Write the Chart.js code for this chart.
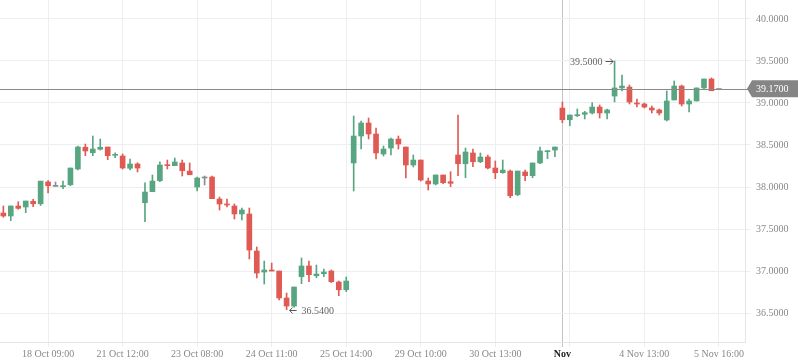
<!DOCTYPE html>
<html>
<head>
<meta charset="utf-8">
<script src="https://cdn.jsdelivr.net/npm/chart.js@4.4.1/dist/chart.umd.min.js"></script>
<style>
  html, body { margin: 0; padding: 0; background: #fff; }
  #wrap { width: 798px; height: 363px; }
</style>
</head>
<body>
<div id="wrap"><canvas id="priceChart"></canvas></div>
<script>
// Candle data (hourly-ish bars)
const opens = [
  37.69, 37.655, 37.774, 37.762, 37.83, 37.80, 38.06, 38.008, 38.004, 38.027,
  38.214, 38.473, 38.408, 38.449, 38.476, 38.377, 38.369, 38.223, 38.274, 37.813,
  37.944, 38.075, 38.262, 38.254, 38.286, 38.19, 38.0, 38.107, 38.119, 37.857,
  37.798, 37.774, 37.679, 37.679, 37.238, 36.988, 37.012, 37.0, 36.679, 36.583,
  36.932, 37.06, 36.944, 36.968, 37.0, 36.869, 36.777, 38.286, 38.607, 38.762,
  38.631, 38.393, 38.464, 38.571, 38.476, 38.262, 38.321, 38.071, 38.036, 38.143,
  38.063, 38.381, 38.277, 38.405, 38.301, 38.357, 38.226, 38.17, 38.19, 37.908,
  38.179, 38.135, 38.286, 38.42, 38.44, 38.94, 38.801, 38.849, 38.865, 38.881,
  38.952, 38.881, 39.083, 39.179, 39.19, 39.0, 38.988, 38.94, 38.917, 38.798,
  39.036, 39.202, 38.988, 39.024, 39.179, 39.286, 39.16
];
const highs = [
  37.774, 37.774, 37.825, 37.833, 37.854, 38.07, 38.075, 38.06, 38.071, 38.226,
  38.488, 38.512, 38.607, 38.571, 38.476, 38.408, 38.393, 38.333, 38.289, 38.051,
  38.143, 38.301, 38.321, 38.345, 38.321, 38.286, 38.119, 38.131, 38.131, 37.881,
  37.857, 37.798, 37.75, 37.75, 37.286, 37.119, 37.095, 37.0, 36.738, 36.81,
  37.155, 37.119, 37.071, 37.024, 37.012, 36.881, 36.929, 38.845, 38.786, 38.821,
  38.702, 38.488, 38.583, 38.607, 38.476, 38.381, 38.321, 38.107, 38.143, 38.143,
  38.182, 38.857, 38.464, 38.452, 38.405, 38.381, 38.31, 38.321, 38.202, 38.19,
  38.202, 38.286, 38.476, 38.432, 38.476, 39.012, 38.857, 38.929, 38.901, 39.004,
  38.976, 38.929, 39.5, 39.333, 39.214, 39.048, 39.0, 38.964, 38.929, 39.143,
  39.262, 39.214, 39.048, 39.179, 39.286, 39.298, 39.16
];
const lows = [
  37.64, 37.60, 37.735, 37.694, 37.765, 37.78, 37.93, 38.008, 37.98, 38.015,
  38.202, 38.373, 38.373, 38.44, 38.325, 38.349, 38.214, 38.202, 38.179, 37.587,
  37.944, 38.063, 38.214, 38.254, 38.131, 38.146, 37.952, 38.024, 37.861, 37.726,
  37.762, 37.619, 37.607, 37.143, 36.917, 36.845, 37.0, 36.655, 36.54, 36.571,
  36.849, 36.873, 36.92, 36.932, 36.861, 36.706, 36.754, 37.952, 38.452, 38.571,
  38.333, 38.369, 38.381, 38.452, 38.107, 38.238, 38.071, 37.964, 38.024, 38.039,
  38.004, 38.135, 38.111, 38.242, 38.289, 38.214, 38.099, 38.163, 37.873, 37.896,
  38.075, 38.111, 38.277, 38.337, 38.361, 38.765, 38.73, 38.837, 38.81, 38.869,
  38.821, 38.81, 39.012, 39.143, 38.988, 38.952, 38.94, 38.881, 38.857, 38.786,
  39.036, 38.964, 38.893, 39.024, 39.167, 39.146, 39.16
];
const closes = [
  37.655, 37.774, 37.746, 37.833, 37.80, 38.07, 38.015, 38.008, 38.015, 38.226,
  38.476, 38.429, 38.452, 38.473, 38.373, 38.389, 38.226, 38.274, 38.226, 37.94,
  38.071, 38.262, 38.254, 38.298, 38.194, 38.146, 38.107, 38.107, 37.861, 37.798,
  37.786, 37.679, 37.726, 37.25, 36.976, 37.012, 37.0, 36.679, 36.583, 36.81,
  37.06, 36.956, 36.964, 36.988, 36.873, 36.777, 36.881, 38.607, 38.762, 38.631,
  38.405, 38.452, 38.571, 38.512, 38.262, 38.321, 38.083, 38.036, 38.143, 38.051,
  38.044, 38.277, 38.417, 38.301, 38.357, 38.226, 38.17, 38.202, 37.896, 38.19,
  38.135, 38.286, 38.429, 38.432, 38.476, 38.801, 38.857, 38.861, 38.885, 38.952,
  38.881, 38.917, 39.179, 39.202, 39.012, 38.988, 38.952, 38.917, 38.881, 39.024,
  39.202, 38.988, 39.024, 39.179, 39.286, 39.146, 39.16
];

// Axis ticks
const xTickPos = [6, 16, 26, 36, 46, 56, 66, 75, 76, 86, 96];
const xTickLabels = ['18 Oct 09:00', '21 Oct 12:00', '23 Oct 08:00', '24 Oct 11:00', '25 Oct 14:00',
  '29 Oct 10:00', '30 Oct 13:00', 'Nov', '', '4 Nov 13:00', '5 Nov 16:00'];
const yTickValues = [36.5, 37.0, 37.5, 38.0, 38.5, 39.0, 39.5, 40.0];

// Markers
const lastPrice = 39.17;
const highMarkIdx = 82;
const lowMarkIdx = 38;

const UP = '#58a681';
const DOWN = '#e05a54';
const FLAT = '#8c8c8c';
const FONT = "'Liberation Serif', 'Times New Roman', serif";

function candleColor(i) {
    if (closes[i] > opens[i]) return UP;
    if (closes[i] < opens[i]) return DOWN;
    return FLAT;
}

const wickData = opens.map((o, i) => ({ x: i, y: [lows[i], highs[i]] }));
const bodyData = opens.map((o, i) => ({ x: i, y: [Math.min(o, closes[i]), Math.max(o, closes[i])] }));
const colors = opens.map((o, i) => candleColor(i));

// small arrow with a head, dir = 1 points right, -1 points left
function drawArrow(ctx, x0, x1, y, dir) {
    ctx.beginPath();
    ctx.moveTo(x0, y);
    ctx.lineTo(x1, y);
    const tip = dir > 0 ? x1 : x0;
    ctx.moveTo(tip - 3 * dir, y - 3);
    ctx.lineTo(tip, y);
    ctx.lineTo(tip - 3 * dir, y + 3);
    ctx.stroke();
}

// Price line, price tag and high/low notes
const markerPlugin = {
    id: 'markers',
    afterDatasetsDraw(chart) {
        const ctx = chart.ctx;
        const xs = chart.scales.x;
        const ys = chart.scales.y;
        const area = chart.chartArea;
        ctx.save();
        // last price line
        const py = Math.round(ys.getPixelForValue(lastPrice)) + 0.5;
        ctx.strokeStyle = '#8a8a8a';
        ctx.lineWidth = 1;
        ctx.beginPath();
        ctx.moveTo(area.left, py);
        ctx.lineTo(area.right + 3, py);
        ctx.stroke();

        // high / low notes
        ctx.fillStyle = '#666';
        ctx.strokeStyle = '#555';
        ctx.font = '10px ' + FONT;
        ctx.textBaseline = 'middle';
        const hx = xs.getPixelForValue(highMarkIdx);
        const hy = Math.round(ys.getPixelForValue(highs[highMarkIdx])) + 0.5;
        drawArrow(ctx, hx - 9, hx - 1.5, hy, 1);
        ctx.textAlign = 'right';
        ctx.fillText(highs[highMarkIdx].toFixed(4), hx - 12, hy + 1);
        const lx = xs.getPixelForValue(lowMarkIdx);
        const ly = Math.round(ys.getPixelForValue(lows[lowMarkIdx])) + 0.5;
        drawArrow(ctx, lx + 3, lx + 10, ly, -1);
        ctx.textAlign = 'left';
        ctx.fillText(lows[lowMarkIdx].toFixed(4), lx + 15, ly + 1);
        ctx.restore();
    },
    afterDraw(chart) {
        const ctx = chart.ctx;
        const ys = chart.scales.y;
        const area = chart.chartArea;
        const py = ys.getPixelForValue(lastPrice);
        const left = area.right + 2;
        const right = chart.width;
        ctx.save();
        ctx.fillStyle = '#858585';
        ctx.beginPath();
        ctx.moveTo(left, py);
        ctx.lineTo(left + 5, py - 8.5);
        ctx.lineTo(right, py - 8.5);
        ctx.lineTo(right, py + 8.5);
        ctx.lineTo(left + 5, py + 8.5);
        ctx.closePath();
        ctx.fill();
        ctx.fillStyle = '#fff';
        ctx.font = '10px ' + FONT;
        ctx.textAlign = 'left';
        ctx.textBaseline = 'middle';
        ctx.fillText(lastPrice.toFixed(4), area.right + 11, py + 1);
        ctx.restore();
    }
};

document.addEventListener('DOMContentLoaded', function() {
    const ctx = document.getElementById('priceChart').getContext('2d');
    new Chart(ctx, {
        type: 'bar',
        data: {
            datasets: [{
                label: 'wick',
                data: wickData,
                backgroundColor: colors,
                barThickness: 1,
                grouped: false,
                order: 2
            }, {
                label: 'body',
                data: bodyData,
                backgroundColor: colors,
                barThickness: 5,
                minBarLength: 1,
                grouped: false,
                order: 1
            }]
        },
        options: {
            responsive: true,
            maintainAspectRatio: false,
            animation: false,
            layout: { padding: 0 },
            scales: {
                x: {
                    type: 'linear',
                    offset: false,
                    min: -0.45,
                    max: 99.5,
                    afterBuildTicks: function(scale) {
                        scale.ticks = xTickPos.map(v => ({ value: v }));
                    },
                    afterFit: function(scale) {
                        scale.height = 21;
                        scale.paddingLeft = 0;
                        scale.paddingRight = 0;
                    },
                    grid: {
                        offset: false,
                        color: c => (c.tick && c.tick.value === 75) ? '#c4c4c4' : '#eceef1',
                        lineWidth: 1,
                        tickLength: 5
                    },
                    border: { display: true, color: '#e2e5e9' },
                    ticks: {
                        autoSkip: false,
                        maxRotation: 0,
                        padding: 1,
                        callback: value => xTickLabels[xTickPos.indexOf(value)],
                        color: c => (c.tick && c.tick.value === 75) ? '#222' : '#888',
                        font: c => ({
                            family: FONT,
                            size: 10,
                            weight: (c.tick && c.tick.value === 75) ? 'bold' : 'normal'
                        })
                    }
                },
                y: {
                    position: 'right',
                    min: 36.155,
                    max: 40.226,
                    afterBuildTicks: function(scale) {
                        scale.ticks = yTickValues.map(v => ({ value: v }));
                    },
                    afterFit: function(scale) {
                        scale.width = 53;
                        scale.paddingTop = 0;
                        scale.paddingBottom = 0;
                    },
                    grid: {
                        color: '#eceef1',
                        lineWidth: 1,
                        tickLength: 5
                    },
                    border: { display: true, color: '#e2e5e9' },
                    ticks: {
                        padding: 6,
                        color: '#888',
                        font: { family: FONT, size: 10 },
                        callback: value => Number(value).toFixed(4)
                    }
                }
            },
            plugins: {
                legend: { display: false },
                tooltip: { enabled: false }
            }
        },
        plugins: [markerPlugin]
    });
});
</script>
</body>
</html>
